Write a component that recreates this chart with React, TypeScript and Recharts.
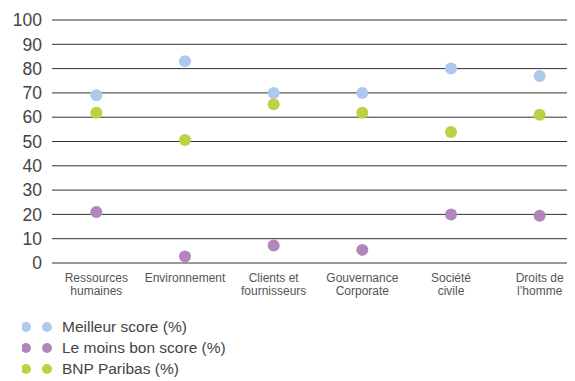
import React from "react";
import { CartesianGrid, ComposedChart, Line, XAxis, YAxis } from "recharts";

const categories = [
  "Ressources\nhumaines",
  "Environnement",
  "Clients et\nfournisseurs",
  "Gouvernance\nCorporate",
  "Société\ncivile",
  "Droits de\nl\u2019homme",
];
const bestScore = [69, 83, 70, 70, 80, 77];
const worstScore = [21, 2.7, 7.2, 5.4, 20, 19.4];
const bnpScore = [61.8, 50.6, 65.3, 61.8, 53.9, 61];
const yTicks = [0, 10, 20, 30, 40, 50, 60, 70, 80, 90, 100];

const series = [
  { key: "best", name: "Meilleur score (%)", color: "#adc9ef" },
  { key: "worst", name: "Le moins bon score (%)", color: "#b086bd" },
  { key: "bnp", name: "BNP Paribas (%)", color: "#bed142" },
];

const data = categories.map((cat, i) => ({
  cat,
  best: bestScore[i],
  worst: worstScore[i],
  bnp: bnpScore[i],
}));

const font = "'Liberation Sans', Arial, Helvetica, sans-serif";

function CatTick(props: any) {
  const { x, y, payload } = props;
  const lines = String(payload.value).split("\n");
  return (
    <text x={x} y={y} textAnchor="middle" fill="#555" fontSize={12} fontFamily={font}>
      {lines.map((l, i) => (
        <tspan key={i} x={x} dy={i === 0 ? 11 : 13}>
          {l}
        </tspan>
      ))}
    </text>
  );
}

export default function App() {
  return (
    <div style={{ width: 567, overflow: "hidden", fontFamily: font }}>
      <ComposedChart
        width={576}
        height={290}
        data={data}
        margin={{ top: 12, right: 0, bottom: 0, left: 0 }}
      >
        <CartesianGrid vertical={false} stroke="#333" strokeWidth={1} />
        <XAxis
          dataKey="cat"
          scale="band"
          axisLine={false}
          tickLine={false}
          interval={0}
          height={35}
          tick={<CatTick />}
        />
        <YAxis
          domain={[0, 100]}
          ticks={yTicks}
          interval={0}
          width={44}
          axisLine={false}
          tickLine={false}
          tickMargin={4}
          tick={{ fill: "#444", fontSize: 17.5, fontFamily: font }}
        />
        {series.map((s) => (
          <Line
            key={s.key}
            dataKey={s.key}
            name={s.name}
            stroke="none"
            dot={{ r: 6, fill: s.color, stroke: "none" }}
            activeDot={false}
            isAnimationActive={false}
          />
        ))}
      </ComposedChart>
      <div style={{ paddingTop: 18, paddingLeft: 14 }}>
        {series.map((s) => (
          <div
            key={s.key}
            style={{ display: "flex", alignItems: "center", height: 21 }}
          >
            <svg width={40} height={12}>
              <circle cx={4} cy={6} r={5} fill={s.color} />
              <circle cx={25} cy={6} r={5} fill={s.color} />
            </svg>
            <span style={{ fontSize: 15.5, color: "#444" }}>{s.name}</span>
          </div>
        ))}
      </div>
    </div>
  );
}
